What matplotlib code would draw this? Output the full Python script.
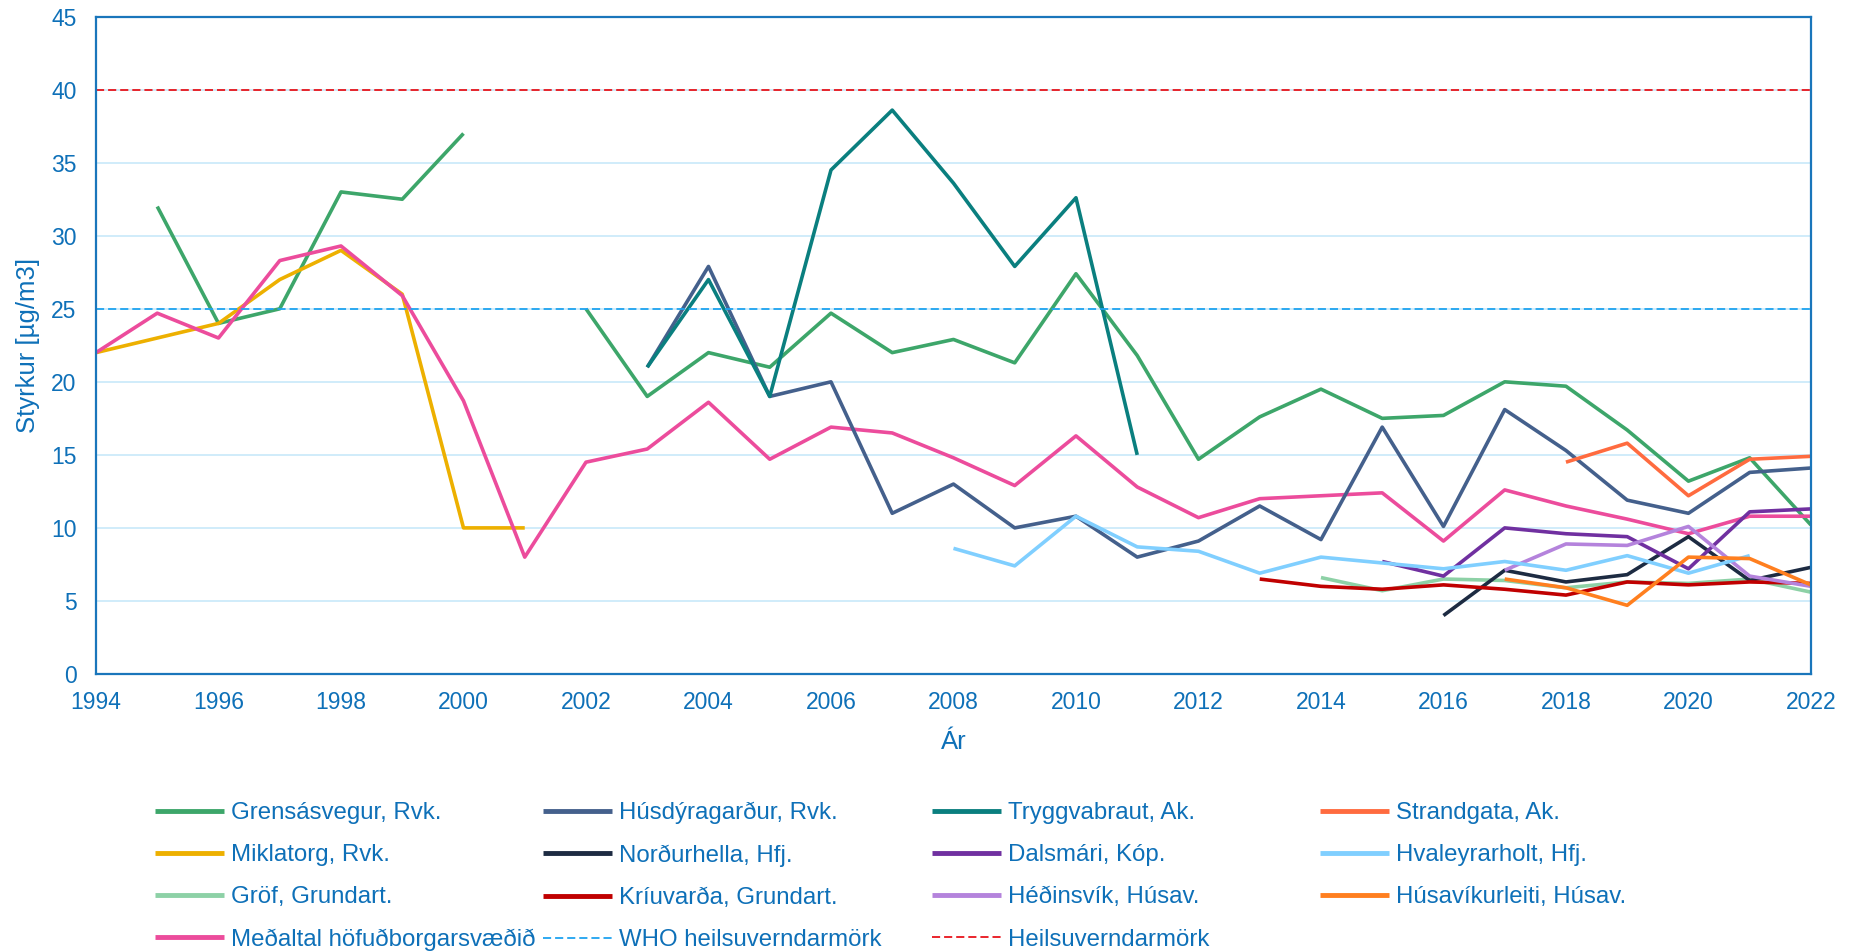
import numpy as np
import matplotlib
matplotlib.use('Agg')
import matplotlib.pyplot as plt

plt.rcParams['font.family'] = ['Liberation Sans', 'DejaVu Sans']

n = np.nan
ar = list(range(1994, 2023))

# mæligildi (árs meðaltöl)
grensas = [n, 32, 24, 25, 33, 32.5, 37, n, 25, 19, 22, 21, 24.7, 22, 22.9, 21.3, 27.4, 21.8,
           14.7, 17.6, 19.5, 17.5, 17.7, 20, 19.7, 16.7, 13.2, 14.8, 10.2]
husdyragardur = [n] * 9 + [21, 27.9, 19, 20, 11, 13, 10, 10.8, 8, 9.1, 11.5, 9.2, 16.9, 10.1,
                           18.1, 15.3, 11.9, 11.0, 13.8, 14.1]
tryggvabraut = [n] * 9 + [21, 27, 19, 34.5, 38.6, 33.6, 27.9, 32.6, 15] + [n] * 11
strandgata = [n] * 24 + [14.5, 15.8, 12.2, 14.7, 14.9]
miklatorg = [22, 23, 24, 27, 29, 26, 10, 10] + [n] * 21
nordurhella = [n] * 22 + [4.0, 7.1, 6.3, 6.8, 9.4, 6.4, 7.3]
dalsmari = [n] * 21 + [7.7, 6.7, 10.0, 9.6, 9.4, 7.2, 11.1, 11.3]
hvaleyrarholt = [n] * 14 + [8.6, 7.4, 10.8, 8.7, 8.4, 6.9, 8.0, 7.6, 7.2, 7.7, 7.1, 8.1, 6.9, 8.1, n]
grof = [n] * 20 + [6.6, 5.7, 6.5, 6.4, 5.9, 6.3, 6.2, 6.5, 5.6]
kriuvarda = [n] * 19 + [6.5, 6.0, 5.8, 6.1, 5.8, 5.4, 6.3, 6.1, 6.3, 6.2]
hedinsvik = [n] * 23 + [7.1, 8.9, 8.8, 10.1, 6.7, 6.0]
husavikurleiti = [n] * 23 + [6.5, 5.9, 4.7, 8.0, 7.9, 6.1]
medaltal = [22, 24.7, 23, 28.3, 29.3, 25.9, 18.7, 8.0, 14.5, 15.4, 18.6, 14.7, 16.9, 16.5, 14.8,
            12.9, 16.3, 12.8, 10.7, 12.0, 12.2, 12.4, 9.1, 12.6, 11.5, 10.6, 9.6, 10.8, 10.8]
who_mork = 25
heilsu_mork = 40

stodvar = [
    ('Grensásvegur, Rvk.', grensas, '#3DA66A'),
    ('Miklatorg, Rvk.', miklatorg, '#EDB000'),
    ('Gröf, Grundart.', grof, '#8DD1A6'),
    ('Meðaltal höfuðborgarsvæðið', medaltal, '#EC4C9C'),
    ('Húsdýragarður, Rvk.', husdyragardur, '#44608C'),
    ('Norðurhella, Hfj.', nordurhella, '#1D2B42'),
    ('Kríuvarða, Grundart.', kriuvarda, '#C00000'),
    ('Tryggvabraut, Ak.', tryggvabraut, '#0A7F7F'),
    ('Dalsmári, Kóp.', dalsmari, '#7030A0'),
    ('Héðinsvík, Húsav.', hedinsvik, '#B483DC'),
    ('Strandgata, Ak.', strandgata, '#FF6B3F'),
    ('Hvaleyrarholt, Hfj.', hvaleyrarholt, '#80CFFF'),
    ('Húsavíkurleiti, Húsav.', husavikurleiti, '#FF7F1F'),
]

blar = '#0E70B8'

fig = plt.figure(figsize=(18.57, 9.51), dpi=100)
ax = fig.add_axes([0.0517, 0.2913, 0.9235, 0.6912])

lines = {}
for nafn, gildi, litur in stodvar:
    h, = ax.plot(ar, gildi, color=litur, lw=2.6, label=nafn, solid_capstyle='butt')
    lines[nafn] = h

h_who = ax.axhline(who_mork, color='#1FA3F0', lw=1.3, dashes=(4.5, 2.2), label='WHO heilsuverndarmörk')
h_heil = ax.axhline(heilsu_mork, color='#E8141B', lw=1.3, dashes=(4.5, 2.2), label='Heilsuverndarmörk')
lines['WHO heilsuverndarmörk'] = h_who
lines['Heilsuverndarmörk'] = h_heil

ax.set_xlim(1994, 2022)
ax.set_ylim(0, 45)
ax.set_xticks(range(1994, 2023, 2))
ax.set_yticks(range(0, 46, 5))
ax.grid(axis='y', color='#CDEBFA', lw=1.3)
ax.set_axisbelow(True)
ax.tick_params(length=0, labelsize=16.5, labelcolor=blar)
ax.tick_params(axis='x', pad=12)
ax.tick_params(axis='y', pad=14)
for s in ax.spines.values():
    s.set_color('#1A76BB')
    s.set_linewidth(1.6)

ax.set_xlabel('Ár', fontsize=18.5, color=blar, labelpad=12)
ax.set_ylabel('Styrkur [µg/m3]', fontsize=18.5, color=blar, labelpad=8)

# skýringar í fjórum dálkum
dalkar = [
    ['Grensásvegur, Rvk.', 'Miklatorg, Rvk.', 'Gröf, Grundart.', 'Meðaltal höfuðborgarsvæðið'],
    ['Húsdýragarður, Rvk.', 'Norðurhella, Hfj.', 'Kríuvarða, Grundart.', 'WHO heilsuverndarmörk'],
    ['Tryggvabraut, Ak.', 'Dalsmári, Kóp.', 'Héðinsvík, Húsav.', 'Heilsuverndarmörk'],
    ['Strandgata, Ak.', 'Hvaleyrarholt, Hfj.', 'Húsavíkurleiti, Húsav.'],
]
x_dalkar = [155, 543, 932, 1320]
for xd, dalkur in zip(x_dalkar, dalkar):
    handles = [lines[k] for k in dalkur]
    leg = fig.legend(handles, dalkur, loc='upper left', bbox_to_anchor=(xd / 1857, 0.1567),
                     frameon=False, fontsize=17.3, handlelength=2.87, handletextpad=0.28,
                     labelspacing=0.84, borderpad=0, borderaxespad=0, labelcolor=blar)
    for lh in leg.get_lines():
        if lh.get_linestyle() == '-':
            lh.set_linewidth(3.5)

fig.savefig('out.png', dpi=100)
